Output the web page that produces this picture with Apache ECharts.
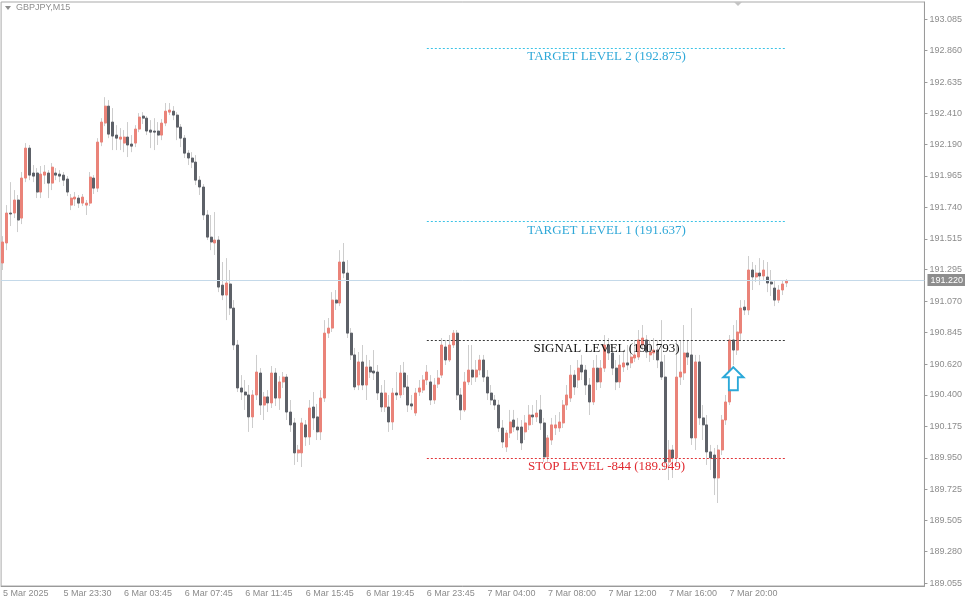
<!DOCTYPE html>
<html>
<head>
<meta charset="utf-8">
<title>GBPJPY,M15</title>
<script src="https://cdn.jsdelivr.net/npm/echarts@6/dist/echarts.min.js"></script>
<style>
  html, body { margin: 0; padding: 0; background: #fff; }
  #chart { width: 965px; height: 599px; }
</style>
</head>
<body>
<div id="chart"></div>
<script>
// bottom time labels, one every 16 bars
const timeLabels = ['5 Mar 2025', '5 Mar 23:30', '6 Mar 03:45', '6 Mar 07:45', '6 Mar 11:45', '6 Mar 15:45',
  '6 Mar 19:45', '6 Mar 23:45', '7 Mar 04:00', '7 Mar 08:00', '7 Mar 12:00', '7 Mar 16:00', '7 Mar 20:00'];
const yTicks = [193.085, 192.860, 192.635, 192.410, 192.190, 191.965, 191.740, 191.515, 191.295, 191.070,
  190.845, 190.620, 190.400, 190.175, 189.950, 189.725, 189.505, 189.280, 189.055];

const open = [
  191.342, 191.485, 191.699, 191.699, 191.792, 191.663, 191.949, 192.163, 191.985, 191.985,
  191.849, 191.970, 191.985, 191.913, 191.985, 191.977, 191.970, 191.942, 191.756, 191.799,
  191.806, 191.770, 191.756, 191.770, 191.949, 191.877, 192.206, 192.342, 192.463, 192.349,
  192.256, 192.227, 192.199, 192.242, 192.192, 192.199, 192.299, 192.392, 192.377, 192.292,
  192.285, 192.285, 192.256, 192.342, 192.420, 192.427, 192.399, 192.313, 192.234, 192.127,
  192.092, 192.063, 191.934, 191.885, 191.685, 191.527, 191.485, 191.506, 191.184, 191.113,
  191.192, 191.020, 190.756, 190.449, 190.420, 190.399, 190.242, 190.399, 190.556, 190.327,
  190.385, 190.342, 190.556, 190.377, 190.492, 190.527, 190.277, 190.199, 189.985, 189.985,
  190.185, 190.099, 190.313, 190.242, 190.135, 190.377, 190.841, 190.877, 191.077, 191.056,
  191.349, 191.270, 190.841, 190.685, 190.470, 190.635, 190.470, 190.599, 190.570, 190.563,
  190.413, 190.313, 190.313, 190.206, 190.413, 190.399, 190.556, 190.456, 190.335, 190.270,
  190.420, 190.434, 190.506, 190.492, 190.363, 190.477, 190.541, 190.742, 190.649, 190.756,
  190.841, 190.399, 190.292, 190.492, 190.577, 190.527, 190.577, 190.649, 190.527, 190.413,
  190.363, 190.327, 190.163, 190.027, 190.127, 190.220, 190.170, 190.170, 190.135, 190.185,
  190.256, 190.242, 190.292, 190.199, 189.956, 190.077, 190.163, 190.163, 190.199, 190.327,
  190.377, 190.541, 190.506, 190.613, 190.577, 190.470, 190.349, 190.591, 190.492, 190.591,
  190.756, 190.699, 190.591, 190.492, 190.599, 190.628, 190.628, 190.663, 190.670, 190.756,
  190.792, 190.685, 190.699, 190.720, 190.635, 190.527, 189.920, 190.006, 189.949, 190.527,
  190.556, 190.699, 190.685, 190.092, 190.635, 190.235, 190.185, 189.992, 189.970, 189.806,
  190.006, 190.220, 190.349, 190.792, 190.720, 190.841, 191.027, 191.006, 191.292, 191.242,
  191.270, 191.249, 191.242, 191.206, 191.163, 191.077, 191.149, 191.199
];
const close = [
  191.492, 191.699, 191.692, 191.792, 191.649, 191.949, 192.163, 191.970, 191.963, 191.849,
  191.977, 191.992, 191.913, 192.027, 191.970, 191.963, 191.934, 191.849, 191.806, 191.813,
  191.770, 191.813, 191.770, 191.956, 191.877, 192.206, 192.349, 192.463, 192.263, 192.249,
  192.234, 192.242, 192.242, 192.185, 192.177, 192.299, 192.385, 192.377, 192.285, 192.277,
  192.277, 192.256, 192.342, 192.427, 192.435, 192.399, 192.313, 192.234, 192.127, 192.092,
  192.063, 191.934, 191.885, 191.685, 191.527, 191.492, 191.506, 191.170, 191.113, 191.199,
  191.020, 190.756, 190.449, 190.420, 190.399, 190.242, 190.399, 190.563, 190.327, 190.385,
  190.342, 190.556, 190.377, 190.492, 190.527, 190.277, 190.185, 189.985, 190.006, 190.199,
  190.099, 190.306, 190.235, 190.135, 190.377, 190.841, 190.877, 191.077, 191.056, 191.349,
  191.270, 190.841, 190.685, 190.456, 190.635, 190.470, 190.599, 190.563, 190.556, 190.413,
  190.313, 190.413, 190.206, 190.413, 190.399, 190.556, 190.456, 190.327, 190.320, 190.413,
  190.449, 190.506, 190.563, 190.363, 190.470, 190.520, 190.756, 190.649, 190.756, 190.841,
  190.399, 190.292, 190.492, 190.577, 190.527, 190.577, 190.649, 190.527, 190.413, 190.363,
  190.327, 190.163, 190.063, 190.127, 190.206, 190.170, 190.149, 190.056, 190.199, 190.256,
  190.242, 190.270, 190.199, 189.956, 190.092, 190.185, 190.185, 190.206, 190.327, 190.399,
  190.541, 190.456, 190.591, 190.563, 190.470, 190.349, 190.591, 190.492, 190.591, 190.756,
  190.699, 190.591, 190.492, 190.613, 190.628, 190.613, 190.670, 190.685, 190.792, 190.806,
  190.706, 190.706, 190.720, 190.649, 190.527, 189.920, 190.006, 189.949, 190.527, 190.563,
  190.699, 190.670, 190.092, 190.635, 190.235, 190.185, 189.992, 189.949, 189.806, 190.006,
  190.220, 190.349, 190.792, 190.720, 190.849, 191.020, 191.006, 191.292, 191.242, 191.270,
  191.249, 191.292, 191.199, 191.192, 191.077, 191.149, 191.192, 191.213
];
const low = [
  191.292, 191.434, 191.606, 191.663, 191.563, 191.620, 191.920, 191.934, 191.920, 191.806,
  191.806, 191.906, 191.806, 191.863, 191.934, 191.920, 191.892, 191.820, 191.720, 191.749,
  191.735, 191.749, 191.685, 191.749, 191.835, 191.849, 192.177, 192.320, 192.234, 192.149,
  192.149, 192.149, 192.134, 192.099, 192.134, 192.170, 192.277, 192.335, 192.256, 192.163,
  192.149, 192.185, 192.220, 192.320, 192.399, 192.363, 192.220, 192.170, 192.092, 192.042,
  192.020, 191.899, 191.828, 191.649, 191.506, 191.434, 191.399, 191.134, 191.077, 190.934,
  190.970, 190.720, 190.420, 190.363, 190.292, 190.135, 190.163, 190.363, 190.256, 190.220,
  190.277, 190.306, 190.320, 190.292, 190.449, 190.220, 190.135, 189.899, 189.920, 189.884,
  190.035, 190.042, 190.149, 190.077, 190.077, 190.349, 190.806, 190.849, 191.006, 191.034,
  191.234, 190.806, 190.649, 190.434, 190.434, 190.434, 190.363, 190.520, 190.506, 190.363,
  190.277, 190.277, 190.135, 190.149, 190.363, 190.377, 190.399, 190.277, 190.292, 190.249,
  190.392, 190.413, 190.470, 190.327, 190.335, 190.449, 190.520, 190.613, 190.635, 190.735,
  190.363, 190.220, 190.277, 190.470, 190.470, 190.492, 190.541, 190.492, 190.363, 190.327,
  190.292, 190.135, 190.020, 189.992, 190.092, 190.135, 190.077, 190.006, 190.077, 190.149,
  190.185, 190.206, 190.149, 189.920, 189.920, 190.042, 190.113, 190.135, 190.163, 190.292,
  190.349, 190.399, 190.449, 190.506, 190.399, 190.256, 190.327, 190.434, 190.449, 190.563,
  190.649, 190.541, 190.434, 190.449, 190.563, 190.577, 190.591, 190.635, 190.649, 190.720,
  190.663, 190.635, 190.649, 190.591, 190.506, 189.863, 189.791, 189.806, 189.899, 190.470,
  190.506, 190.613, 190.042, 190.006, 190.185, 190.077, 189.899, 189.863, 189.684, 189.627,
  189.970, 190.185, 190.327, 190.613, 190.685, 190.792, 190.970, 190.970, 191.149, 191.206,
  191.184, 191.220, 191.134, 191.106, 191.034, 191.056, 191.113, 191.170
];
const high = [
  191.534, 191.756, 191.920, 191.863, 191.828, 191.992, 192.199, 192.185, 192.042, 192.020,
  192.035, 192.042, 192.006, 192.056, 192.020, 192.006, 191.992, 191.963, 191.835, 191.849,
  191.828, 191.835, 191.792, 191.992, 191.970, 192.234, 192.377, 192.527, 192.506, 192.449,
  192.327, 192.306, 192.292, 192.349, 192.256, 192.327, 192.413, 192.420, 192.392, 192.363,
  192.377, 192.349, 192.370, 192.485, 192.485, 192.463, 192.420, 192.335, 192.256, 192.149,
  192.134, 192.113, 191.963, 191.906, 191.720, 191.685, 191.706, 191.534, 191.349, 191.377,
  191.292, 191.077, 190.792, 190.541, 190.506, 190.470, 190.434, 190.685, 190.591, 190.420,
  190.434, 190.606, 190.591, 190.534, 190.563, 190.549, 190.363, 190.235, 190.042, 190.235,
  190.220, 190.363, 190.420, 190.335, 190.434, 190.934, 190.949, 191.134, 191.149, 191.434,
  191.485, 191.363, 190.877, 190.735, 190.706, 190.756, 190.685, 190.649, 190.720, 190.613,
  190.470, 190.506, 190.399, 190.449, 190.563, 190.613, 190.635, 190.541, 190.399, 190.449,
  190.506, 190.541, 190.613, 190.541, 190.520, 190.577, 190.806, 190.792, 190.827, 190.863,
  190.863, 190.449, 190.563, 190.756, 190.756, 190.649, 190.685, 190.685, 190.577, 190.470,
  190.399, 190.363, 190.220, 190.149, 190.292, 190.292, 190.235, 190.220, 190.256, 190.327,
  190.327, 190.363, 190.399, 190.235, 190.113, 190.235, 190.256, 190.277, 190.363, 190.470,
  190.613, 190.577, 190.649, 190.685, 190.613, 190.520, 190.649, 190.685, 190.649, 190.827,
  190.806, 190.756, 190.649, 190.685, 190.720, 190.756, 190.756, 190.792, 190.863, 190.899,
  190.827, 190.792, 190.806, 190.792, 190.934, 190.685, 190.077, 190.042, 190.792, 190.792,
  190.899, 190.792, 191.020, 190.685, 190.685, 190.327, 190.256, 190.042, 190.020, 190.042,
  190.256, 190.399, 190.827, 190.899, 190.934, 191.077, 191.077, 191.392, 191.349, 191.328,
  191.377, 191.363, 191.349, 191.292, 191.220, 191.184, 191.220, 191.227
];

// horizontal trade levels drawn over the last bars
const levels = [
  { name: 'TARGET LEVEL 2 (192.875)', value: 192.875, from: 112, to: 207, kind: 'target' },
  { name: 'TARGET LEVEL 1 (191.637)', value: 191.637, from: 112, to: 207, kind: 'target' },
  { name: 'SIGNAL LEVEL (190.793)', value: 190.793, from: 112, to: 207, kind: 'signal' },
  { name: 'STOP LEVEL -844 (189.949)', value: 189.949, from: 112, to: 207, kind: 'stop' }
];
const lastPrice = 191.220;
const signalArrow = { bar: 193, price: 190.515 };
const slots = 244; // bars that fit in the window, incl. empty right shift
const yMin = 189.034;
const yMax = 193.207;

const levelColors = {
  target: { line: '#3cc3e6', text: '#2fa8d8' },
  signal: { line: '#3a3a3a', text: '#111111' },
  stop: { line: '#e0353a', text: '#e02a30' }
};

const categories = Array.from({ length: slots }, (_, i) => String(i));
const wickData = open.map((o, i) => [o, close[i], low[i], high[i]]);
const bodyData = open.map((o, i) => [o, close[i], Math.min(o, close[i]), Math.max(o, close[i])]);

const labelEvery = (i) => i % 16 === 0 && i / 16 < timeLabels.length;

var chartDom = document.getElementById('chart');
var myChart = echarts.init(chartDom, null, { renderer: 'canvas' });

const option = {
  animation: false,
  backgroundColor: '#ffffff',
  textStyle: { fontFamily: 'Liberation Sans' },
  grid: {
    left: 1, right: 40, top: 2, bottom: 13,
    show: true, borderColor: '#a9a9a9', borderWidth: 1
  },
  graphic: [
    { type: 'polygon', shape: { points: [[5, 6], [11, 6], [8, 10]] }, style: { fill: '#8d8d8d' } },
    { type: 'text', left: 16, top: 3, style: { text: 'GBPJPY,M15', fill: '#8d8d8d', fontSize: 9, fontFamily: 'Liberation Sans' } },
    { type: 'polygon', shape: { points: [[734, 2], [742, 2], [738, 6]] }, style: { fill: '#c4c4c4' } }
  ],
  xAxis: {
    type: 'category',
    data: categories,
    boundaryGap: true,
    axisLine: { lineStyle: { color: '#9a9a9a', width: 1 } },
    axisTick: { interval: labelEvery, alignWithLabel: true, length: 3, lineStyle: { color: '#9a9a9a' } },
    axisLabel: {
      interval: labelEvery,
      formatter: (v, i) => timeLabels[i / 16] || '',
      align: 'left',
      color: '#8c8c8c',
      fontSize: 9,
      margin: 3,
      fontFamily: 'Liberation Sans'
    },
    splitLine: { show: false }
  },
  yAxis: {
    type: 'value',
    position: 'right',
    min: yMin,
    max: yMax,
    axisLine: { show: true, lineStyle: { color: '#9a9a9a' } },
    axisTick: { show: true, customValues: yTicks, length: 3, lineStyle: { color: '#9a9a9a' } },
    axisLabel: {
      customValues: yTicks,
      formatter: (v) => v.toFixed(3),
      color: '#8c8c8c',
      fontSize: 9,
      margin: 5,
      fontFamily: 'Liberation Sans'
    },
    splitLine: { show: false }
  },
  series: [
    {
      // shadows (wicks)
      name: 'wick',
      type: 'candlestick',
      data: wickData,
      barWidth: 1,
      z: 2,
      itemStyle: { color: '#cdcdcd', color0: '#cdcdcd', borderColor: '#cdcdcd', borderColor0: '#cdcdcd', borderWidth: 1 },
      markLine: {
        silent: true,
        symbol: 'none',
        lineStyle: { color: '#c4d9e9', width: 1, type: 'solid' },
        label: {
          position: 'end',
          formatter: () => lastPrice.toFixed(3),
          color: '#ffffff',
          backgroundColor: '#8d8d8d',
          fontSize: 9,
          padding: [2, 3, 1, 3],
          distance: 3,
          fontFamily: 'Liberation Sans'
        },
        data: [{ yAxis: lastPrice }]
      }
    },
    {
      name: 'GBPJPY',
      type: 'candlestick',
      data: bodyData,
      barWidth: 2.5,
      z: 3,
      itemStyle: {
        color: '#ea8379', color0: '#5d6168',
        borderColor: '#ea8379', borderColor0: '#5d6168',
        borderWidth: 1
      },
      markPoint: {
        silent: true,
        symbol: 'path://M10,0 L20,10 L14.5,10 L14.5,23 L5.5,23 L5.5,10 L0,10 Z',
        symbolSize: [20, 23],
        itemStyle: { color: '#ffffff', borderColor: '#2ba9d9', borderWidth: 2 },
        label: { show: false },
        data: [{ coord: [signalArrow.bar, signalArrow.price] }]
      }
    },
    {
      name: 'levels',
      type: 'line',
      data: [],
      z: 5,
      markLine: {
        silent: true,
        symbol: 'none',
        data: levels.map((lv) => [
          {
            coord: [lv.from, lv.value],
            lineStyle: { color: levelColors[lv.kind].line, type: [2, 2], width: 1 },
            label: {
              formatter: lv.name,
              position: 'insideMiddleBottom',
              distance: 2,
              color: levelColors[lv.kind].text,
              fontSize: 13,
              fontFamily: 'Liberation Serif'
            }
          },
          { coord: [lv.to, lv.value] }
        ])
      }
    }
  ]
};

myChart.setOption(option);
</script>
</body>
</html>
